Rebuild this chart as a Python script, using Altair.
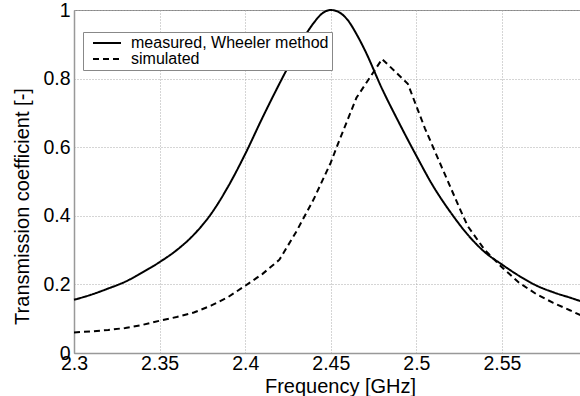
import altair as alt
import pandas as pd

# ---- data ----
series_names = ["measured, Wheeler method", "simulated"]

freq_meas = [2.300, 2.310, 2.320, 2.330, 2.340, 2.350, 2.360, 2.370, 2.380, 2.390,
             2.400, 2.410, 2.420, 2.430, 2.435, 2.440, 2.445, 2.450, 2.455, 2.460,
             2.465, 2.470, 2.480, 2.490, 2.500, 2.510, 2.520, 2.530, 2.540,
             2.550, 2.560, 2.570, 2.580, 2.590, 2.596]
trans_meas = [0.155, 0.170, 0.188, 0.208, 0.235, 0.265, 0.300, 0.345, 0.405, 0.485,
              0.580, 0.685, 0.785, 0.880, 0.925, 0.962, 0.990, 1.000, 0.993, 0.970,
              0.930, 0.882, 0.770, 0.670, 0.575, 0.485, 0.410, 0.345, 0.294,
              0.258, 0.225, 0.197, 0.177, 0.161, 0.151]

freq_sim = [2.300, 2.310, 2.320, 2.330, 2.340, 2.350, 2.360, 2.370, 2.380, 2.390,
            2.400, 2.410, 2.420, 2.430, 2.440, 2.450, 2.455, 2.465, 2.480, 2.495,
            2.505, 2.515, 2.525, 2.530, 2.540, 2.550, 2.560, 2.570, 2.580, 2.590,
            2.596]
trans_sim = [0.060, 0.063, 0.067, 0.073, 0.082, 0.094, 0.105, 0.118, 0.138, 0.163,
             0.196, 0.230, 0.272, 0.355, 0.448, 0.555, 0.620, 0.744, 0.857, 0.785,
             0.655, 0.540, 0.425, 0.370, 0.300, 0.250, 0.205, 0.172, 0.146, 0.124,
             0.110]

x_ticks = [2.3, 2.35, 2.4, 2.45, 2.5, 2.55]
y_ticks = [0, 0.2, 0.4, 0.6, 0.8, 1]

df_meas = pd.DataFrame({"f": freq_meas, "t": trans_meas, "series": series_names[0]})
df_sim = pd.DataFrame({"f": freq_sim, "t": trans_sim, "series": series_names[1]})

FONT = "Liberation Sans"

x_enc = alt.X("f:Q",
              scale=alt.Scale(domain=[2.3, 2.5956], nice=False, zero=False),
              axis=alt.Axis(values=x_ticks, format="~g", title="Frequency [GHz]",
                            labelFontSize=19.5, labelPadding=1, labelFlush=False,
                            titleFontSize=20, titleFontWeight="normal",
                            titleX=266, titleY=39, titleBaseline="alphabetic",
                            titleAlign="center"))
y_enc = alt.Y("t:Q",
              scale=alt.Scale(domain=[0, 1], nice=False),
              axis=alt.Axis(values=y_ticks, format="~g",
                            title="Transmission coefficient [-]",
                            labelFontSize=19.5, labelPadding=4,
                            titleFontSize=20, titleFontWeight="normal",
                            titleX=-52, titleY=196, titleAngle=-90,
                            titleAlign="center", titleBaseline="middle"))
dash_enc = alt.StrokeDash("series:N",
                          scale=alt.Scale(domain=series_names,
                                          range=[[1, 0], [6, 4]]),
                          legend=alt.Legend(title=None, orient="none",
                                            legendX=9, legendY=22,
                                            fillColor="white",
                                            strokeColor="#888888",
                                            padding=3, rowPadding=-1,
                                            symbolType="M-2,0H2",
                                            symbolSize=196,
                                            symbolOffset=13,
                                            symbolStrokeWidth=2,
                                            symbolStrokeColor="black",
                                            labelFontSize=16,
                                            labelFont=FONT,
                                            labelColor="black",
                                            labelLimit=400,
                                            labelOffset=16))

measured = alt.Chart(df_meas).mark_line(
    color="black", strokeWidth=2, interpolate="monotone"
).encode(x=x_enc, y=y_enc, strokeDash=dash_enc)

simulated = alt.Chart(df_sim).mark_line(
    color="black", strokeWidth=2
).encode(x=x_enc, y=y_enc, strokeDash=dash_enc)

chart = alt.layer(measured, simulated).properties(
    width=506, height=343,
    autosize=alt.AutoSizeParams(type="none"),
    padding={"left": 74, "top": 10, "right": 0, "bottom": 43},
).configure(
    font=FONT,
).configure_view(
    stroke="#888888", strokeWidth=1,
).configure_axis(
    labelFont=FONT, titleFont=FONT, labelColor="black", titleColor="black",
    domainColor="#999999", domainWidth=1.5,
    grid=True, gridColor="#aaaaaa", gridDash=[1, 2], gridWidth=1,
    tickSize=0,
)

chart.save("out.html", embed_options={"renderer": "svg", "actions": False})
